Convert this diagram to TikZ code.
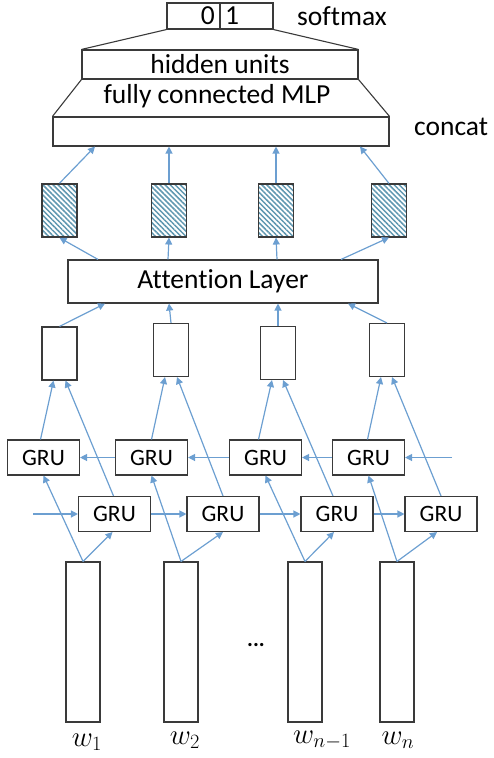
\RequirePackage{fix-cm}
\documentclass[tikz,border=0pt]{standalone}
\usepackage{fontspec}
\setmainfont{Carlito}[Ligatures=NoCommon]
\usetikzlibrary{arrows.meta,patterns.meta}
\definecolor{edge}{HTML}{3A3A3A}
\definecolor{flow}{HTML}{6C9FD1}
\definecolor{stripe}{HTML}{5F97B0}
\tikzset{blk/.style={draw=edge,line width=1.1pt,fill=white,inner sep=0pt,font=\fontsize{27.5}{29}\selectfont}, vec/.style={blk,minimum width=35pt,minimum height=53pt}, hatch/.style={vec,pattern={Lines[angle=-45,distance=3.6pt,line width=1.5pt]},pattern color=stripe}, gru/.style={blk,minimum width=72pt,minimum height=35pt,font=\fontsize{23.5}{25}\selectfont}, word/.style={blk,minimum width=34pt,minimum height=160pt}, arr/.style={-{Triangle[length=7pt,width=7pt]},line width=1.2pt,draw=flow}, lbl/.style={inner sep=0pt,font=\fontsize{27.5}{29}\selectfont}, wlbl/.style={inner sep=0pt,font=\fontsize{29}{31}\selectfont}}

\begin{document}
\begin{tikzpicture}[x=1pt,y=-1pt]
\useasboundingbox (0,0) rectangle (494,758);
% output part: softmax, MLP, concat
\node[blk,minimum width=106pt,minimum height=26pt](sm)at(220,16){};\draw[edge,line width=1.1pt](sm.north)--(sm.south);
\node[lbl,anchor=east](s0)at([xshift=-5pt]sm.center){0};\node[lbl,anchor=west](s1)at([xshift=5pt]sm.center){1};
\node[blk,minimum width=276pt,minimum height=29pt](hid)at(220,64.5){hidden units};
\node[blk,minimum width=336pt,minimum height=29pt](cat)at(221,131.5){};
\node[lbl](mlp)at(217,96){fully connected MLP};\node[lbl,anchor=west](smx)at(297,16){softmax};\node[lbl,anchor=west](cnc)at(414,127){concat};
\draw[edge,line width=1.1pt](sm.south west)--(hid.north west) (sm.south east)--(hid.north east) (hid.south west)--(cat.north west) (hid.south east)--(cat.north east);
% attention
\node[hatch](h1)at(59.5,210.5){};\node[hatch](h2)at(169,210.5){};\node[hatch](h3)at(276,210.5){};\node[hatch](h4)at(389,210.5){};
\node[blk,minimum width=310pt,minimum height=43pt](att)at(223,281.5){Attention Layer};
\node[vec](p1)at(59.5,353.5){};\node[vec](p2)at(171,350){};\node[vec](p3)at(278,353){};\node[vec](p4)at(387,350){};
% bidirectional GRU
\node[gru](t1)at(43.5,457.5){GRU};\node[gru](t2)at(151.5,457.5){GRU};\node[gru](t3)at(265.5,457.5){GRU};\node[gru](t4)at(368.5,457.5){GRU};
\node[gru](b1)at(114.5,514){GRU};\node[gru](b2)at(223,514){GRU};\node[gru](b3)at(337,514){GRU};\node[gru](b4)at(441,514){GRU};
\coordinate(rin)at(452,457.5);\coordinate(lin)at(33,514);
% words
\node[word](w1)at(83,642){};\node[word](w2)at(181,642){};\node[word](w3)at(305,642){};\node[word](w4)at(397,642){};
\node[wlbl](l1)at(87,742){$w_1$};\node[wlbl](l2)at(185,740){$w_2$};\node[wlbl](l3)at(322,740){$w_{n-1}$};\node[wlbl](l4)at(398,740){$w_n$};
\node[inner sep=0pt,font=\fontsize{22}{24}\bfseries](dots)at(256,645){...};
% connectors
\draw[arr](h1.north)--([xshift=-126pt]cat.south);\draw[arr](h2.north)--([xshift=-52pt]cat.south);\draw[arr](h3.north)--([xshift=55pt]cat.south);\draw[arr](h4.north)--([xshift=139pt]cat.south);
\draw[arr]([xshift=-125pt]att.north)--(h1.south);\draw[arr]([xshift=-55pt]att.north)--(h2.south);\draw[arr]([xshift=54pt]att.north)--(h3.south);\draw[arr]([xshift=118pt]att.north)--(h4.south);
\draw[arr](p1.north)--([xshift=-118pt]att.south);\draw[arr](p2.north)--([xshift=-54pt]att.south);\draw[arr](p3.north)--([xshift=55pt]att.south);\draw[arr](p4.north)--([xshift=125pt]att.south);
\draw[arr]([xshift=-3pt]t1.north)--([xshift=-6pt]p1.south);\draw[arr]([xshift=-1pt]b1.north)--([xshift=6pt]p1.south);
\draw[arr](t2.north)--([xshift=-6pt]p2.south);\draw[arr](b2.north)--([xshift=6pt]p2.south);
\draw[arr]([xshift=-7pt]t3.north)--([xshift=-6pt]p3.south);\draw[arr]([xshift=-4pt]b3.north)--([xshift=5pt]p3.south);
\draw[arr]([xshift=-1pt]t4.north)--([xshift=-6pt]p4.south);\draw[arr](b4.north)--([xshift=5pt]p4.south);
\draw[arr](w1.north)--(t1.south);\draw[arr](w1.north)--([xshift=-2pt]b1.south);\draw[arr](w2.north)--(t2.south);\draw[arr](w2.north)--(b2.south);
\draw[arr](w3.north)--(t3.south);\draw[arr](w3.north)--([xshift=-3pt]b3.south);\draw[arr](w4.north)--(t4.south);\draw[arr](w4.north)--([xshift=-4pt]b4.south);
\draw[arr](rin)--(t4.east);\draw[arr](t4.west)--(t3.east);\draw[arr](t3.west)--(t2.east);\draw[arr](t2.west)--(t1.east);
\draw[arr](lin)--(b1.west);\draw[arr](b1.east)--(b2.west);\draw[arr](b2.east)--(b3.west);\draw[arr](b3.east)--(b4.west);
\end{tikzpicture}
\end{document}
